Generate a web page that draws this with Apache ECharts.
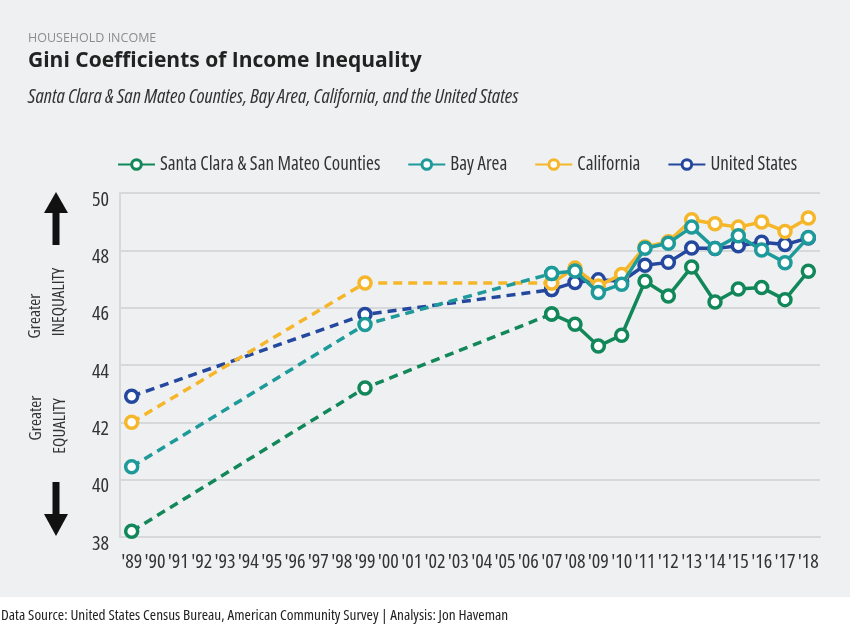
<!DOCTYPE html>
<html>
<head>
<meta charset="utf-8">
<script src="https://cdn.jsdelivr.net/npm/echarts@6/dist/echarts.min.js"></script>
<style>
  html, body { margin: 0; padding: 0; background: #fff; }
  #chart { width: 850px; height: 630px; background: linear-gradient(#eef0f1 0, #eef0f1 597px, #fff 597px); }
</style>
</head>
<body>
<div id="chart"></div>
<script>
// narrow text: Open Sans drawn with font-stretch condensed (goes in the fontWeight slot of the font string)
var NARROW = '"Open Sans", sans-serif';
var CONDENSED = 'condensed';

// tick labels, one per year '89 .. '18
var tickLabels = ["'89","'90","'91","'92","'93","'94","'95","'96","'97","'98","'99","'00","'01","'02","'03","'04","'05","'06","'07","'08","'09","'10","'11","'12","'13","'14","'15","'16","'17","'18"];
var firstYear = 1989;
// years that have a value
var sampleYears = [1989, 1999, 2007, 2008, 2009, 2010, 2011, 2012, 2013, 2014, 2015, 2016, 2017, 2018];
var solidFrom = 2007;   // before this the series are drawn dashed

var seriesNames = ['Santa Clara & San Mateo Counties', 'Bay Area', 'California', 'United States'];
var seriesColors = ['#11875a', '#1e9a9a', '#f6b62a', '#24489e'];

var santaClara   = [38.2, 43.2, 45.78, 45.42, 44.66, 45.04, 46.92, 46.41, 47.42, 46.2, 46.65, 46.7, 46.28, 47.27];
var bayArea      = [40.45, 45.41, 47.19, 47.28, 46.53, 46.82, 48.07, 48.25, 48.81, 48.06, 48.51, 48.01, 47.57, 48.45];
var california   = [42.0, 46.86, 46.86, 47.38, 46.76, 47.16, 48.12, 48.3, 49.07, 48.93, 48.81, 48.99, 48.66, 49.13];
var unitedStates = [42.91, 45.76, 46.63, 46.88, 46.97, 46.92, 47.48, 47.58, 48.08, 48.06, 48.16, 48.28, 48.2, 48.43];

var allValues = [santaClara, bayArea, california, unitedStates];

// spread the sampled values over the full category axis
function fullRow(values, from, to){
    var row = tickLabels.map(function(){ return null; });
    for(var i=0;i<sampleYears.length;i++){
        var y = sampleYears[i];
        if(y>=from && y<=to){
            row[y-firstYear] = values[i];
        }
    }
    return row;
}

var drawOrder = [3, 2, 1, 0];   // US at the back, Santa Clara on top
var series = [];
drawOrder.forEach(function(k, n){
    var c = seriesColors[k];
    series.push({
        name: seriesNames[k] + ' (earlier)',
        type: 'line',
        data: fullRow(allValues[k], firstYear, solidFrom),
        connectNulls: true,
        symbol: 'circle',
        symbolSize: 12,
        showAllSymbol: true,
        z: 2 + n,
        lineStyle: { color: c, width: 3.5, type: [9, 6] },
        itemStyle: { color: '#fff', borderColor: c, borderWidth: 3.5 },
        emphasis: { disabled: true }
    });
    series.push({
        name: seriesNames[k],
        type: 'line',
        data: fullRow(allValues[k], solidFrom, 2018),
        symbol: 'circle',
        symbolSize: 12,
        showAllSymbol: true,
        z: 2 + n,
        lineStyle: { color: c, width: 3.5 },
        itemStyle: { color: '#fff', borderColor: c, borderWidth: 3.5 },
        emphasis: { disabled: true }
    });
});

function sideText(txt, x, y){
    return { type: 'text', x: x, y: y, rotation: Math.PI / 2,
             style: { text: txt, fontFamily: NARROW, fontWeight: CONDENSED, fontSize: 17, fill: '#333',
                      align: 'center', verticalAlign: 'middle' } };
}

var myChart = echarts.init(document.getElementById('chart'));

var option = {
    backgroundColor: 'transparent',
    animation: false,
    title: [
        { text: 'HOUSEHOLD INCOME', left: 28, top: 32, padding: 0,
          textStyle: { fontFamily: 'Open Sans', fontWeight: 'normal', fontSize: 12.5, color: '#8c8c8c' } },
        { text: 'Gini Coefficients of Income Inequality', left: 28, top: 51, padding: 0,
          textStyle: { fontFamily: 'Open Sans', fontWeight: 'bold', fontSize: 21, color: '#222' } },
        { text: 'Santa Clara & San Mateo Counties, Bay Area, California, and the United States', left: 28, top: 87, padding: 0,
          textStyle: { fontFamily: NARROW, fontStyle: 'italic', fontWeight: CONDENSED, fontSize: 20, color: '#333' } }
    ],
    legend: {
        data: seriesNames.map(function(nm, k){
            return { name: nm, itemStyle: { color: '#fff', borderColor: seriesColors[k], borderWidth: 3 } };
        }),
        left: 117,
        top: 155,
        padding: 0,
        itemWidth: 37,
        itemHeight: 12,
        itemGap: 27,
        selectedMode: false,
        textStyle: { fontFamily: NARROW, fontWeight: CONDENSED, fontSize: 19, color: '#333' }
    },
    grid: { left: 120, right: 30, top: 193, bottom: 93, containLabel: false },
    xAxis: {
        type: 'category',
        data: tickLabels,
        boundaryGap: true,
        axisLine: { show: true, lineStyle: { color: '#d7d8d9', width: 2 } },
        axisTick: { show: false },
        axisLabel: { interval: 0, margin: 15, fontFamily: NARROW, fontWeight: CONDENSED, fontSize: 20, color: '#333' }
    },
    yAxis: {
        type: 'value',
        min: 38,
        max: 50,
        interval: 2,
        axisLine: { show: true, lineStyle: { color: '#d7d8d9', width: 2 } },
        axisTick: { show: false },
        splitLine: { lineStyle: { color: '#d7d8d9', width: 2 } },
        // labels sit just below their grid line
        axisLabel: { margin: 11, verticalAlign: 'top', lineHeight: 14,
                     fontFamily: NARROW, fontWeight: CONDENSED, fontSize: 20, color: '#333' }
    },
    graphic: [
        // up arrow
        { type: 'polygon', shape: { points: [[56, 192], [68, 213], [44, 213]] }, style: { fill: '#111' } },
        { type: 'rect', shape: { x: 52.5, y: 212, width: 7, height: 33 }, style: { fill: '#111' } },
        // down arrow
        { type: 'rect', shape: { x: 52.5, y: 482, width: 7, height: 33 }, style: { fill: '#111' } },
        { type: 'polygon', shape: { points: [[44, 514], [68, 514], [56, 536]] }, style: { fill: '#111' } },
        // side captions
        sideText('Greater', 35, 316),
        sideText('INEQUALITY', 59.5, 302),
        sideText('Greater', 36, 418),
        sideText('EQUALITY', 60.5, 426),
        // footer
        { type: 'text', x: 1, y: 616,
          style: { text: 'Data Source: United States Census Bureau, American Community Survey | Analysis: Jon Haveman',
                   fontFamily: NARROW, fontWeight: CONDENSED, fontSize: 15.3, fill: '#222', verticalAlign: 'middle' } }
    ],
    series: series
};

myChart.setOption(option);
</script>
</body>
</html>
